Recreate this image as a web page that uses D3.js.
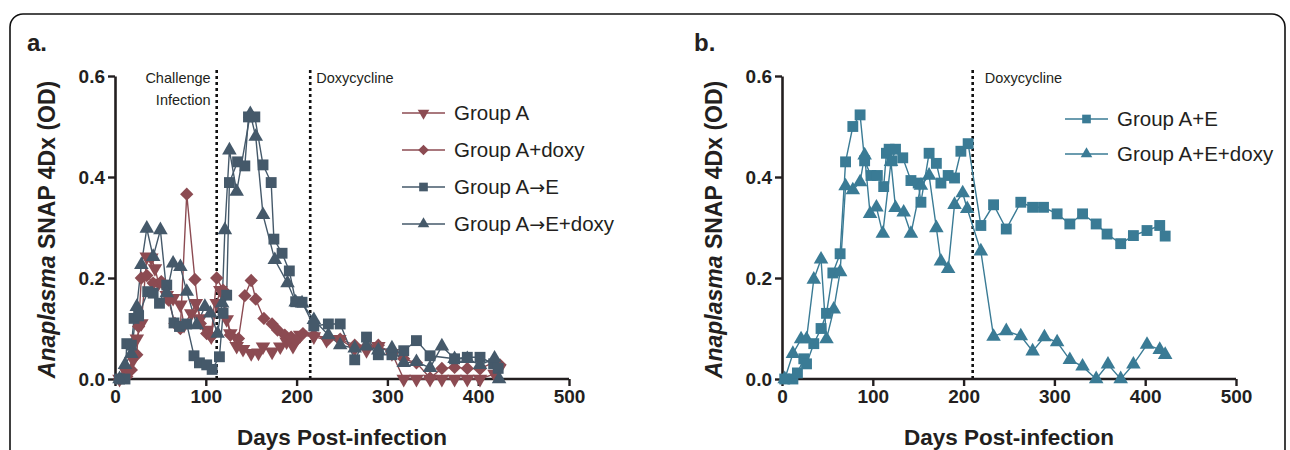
<!DOCTYPE html>
<html>
<head>
<meta charset="utf-8">
<script src="https://cdn.jsdelivr.net/npm/d3@7"></script>
<style>
  body { margin: 0; background: #fff; }
  svg text { font-family: "Liberation Sans", Arial, sans-serif; fill: #231f20; }
</style>
</head>
<body>
<svg id="chart" width="1290" height="450"></svg>
<script>
// ---- data ----
const xTicks = [0, 100, 200, 300, 400, 500];
const yTicks = [0, 0.2, 0.4, 0.6];

// panel a
const daysGroupA = [5,12,20,24,29,35,40,44,48,57,64,72,76,84,89,94,101,106,112,116,123,127,134,141,150,158,163,173,182,189,196,204,219,233,247,264,277,290,305,318,332,347,360,374,388,402,418,423];
const valsGroupA = [0,0.014,0.038,0.08,0.11,0.242,0.24,0.219,0.19,0.166,0.16,0.147,0.107,0.13,0.15,0.12,0.097,0.084,0.15,0.176,0.118,0.09,0.065,0.059,0.051,0.052,0.064,0.054,0.064,0.074,0.065,0.087,0.084,0.077,0.079,0.06,0.057,0.065,0.051,0,0,0,0,0,0,0,0.01,0.02];

const daysGroupADoxy = [5,13,18,24,26,29,35,42,51,59,66,72,79,88,94,101,106,112,119,127,136,143,150,155,164,173,179,187,194,200,207,219,235,248,264,277,290,305,318,332,347,360,374,388,402,418,424];
const valsGroupADoxy = [0,0.005,0.018,0.048,0.104,0.2,0.205,0.19,0.193,0.156,0.11,0.1,0.366,0.197,0.11,0.09,0.084,0.2,0.176,0.087,0.08,0.165,0.195,0.158,0.12,0.109,0.097,0.087,0.083,0.077,0.09,0.087,0.079,0.079,0.067,0.064,0.067,0.051,0.04,0.032,0.002,0.021,0.023,0.021,0.02,0.034,0.028];

const daysGroupAE = [5,11,13,18,21,26,36,42,49,57,65,71,79,87,93,101,107,115,119,123,126,135,143,147,154,163,172,175,184,192,199,206,219,235,248,264,277,290,305,318,332,347,374,388,402,417,422];
const valsGroupAE = [0,0,0.07,0.067,0.12,0.125,0.173,0.17,0.15,0.186,0.111,0.104,0.109,0.046,0.032,0.028,0.019,0.044,0.13,0.166,0.389,0.43,0.422,0.519,0.519,0.424,0.389,0.277,0.249,0.214,0.153,0.152,0.105,0.109,0.109,0.038,0.083,0.048,0.048,0.056,0.076,0.046,0.04,0.043,0.043,0.03,0.021];

const daysGroupAEDoxy = [5,11,18,24,29,35,42,50,57,64,72,79,90,99,105,113,118,121,126,134,149,155,163,176,190,199,206,219,235,248,264,277,290,305,318,332,347,360,374,388,402,418,423];
const valsGroupAEDoxy = [0,0.028,0.05,0.143,0.226,0.298,0.242,0.295,0.17,0.229,0.222,0.173,0.107,0.143,0.13,0.09,0.15,0.295,0.453,0.371,0.525,0.48,0.325,0.236,0.19,0.152,0.15,0.117,0.087,0.067,0.061,0.065,0.057,0.061,0.032,0.034,0.022,0.065,0.04,0.04,0.028,0.041,0];

// panel b
const daysGroupAplusE = [3,12,17,24,27,35,43,49,56,64,70,78,86,91,98,105,112,115,118,121,125,133,142,150,153,162,170,175,183,190,197,205,219,233,247,263,276,288,303,317,331,346,358,373,387,402,416,422];
const valsGroupAplusE = [0,0,0.012,0.04,0.03,0.07,0.1,0.13,0.21,0.248,0.43,0.5,0.523,0.432,0.403,0.403,0.381,0.447,0.455,0.432,0.455,0.438,0.393,0.388,0.35,0.447,0.427,0.388,0.403,0.398,0.451,0.466,0.304,0.345,0.297,0.35,0.34,0.34,0.327,0.307,0.327,0.307,0.287,0.268,0.284,0.294,0.304,0.283];

const daysGroupAplusEDoxy = [3,12,21,27,35,43,49,57,64,70,78,86,91,97,104,111,120,125,134,142,153,162,170,175,183,190,199,204,219,233,247,263,276,289,303,317,331,346,359,373,387,402,416,422];
const valsGroupAplusEDoxy = [0,0.05,0.079,0.079,0.197,0.237,0.079,0.138,0.212,0.382,0.374,0.39,0.443,0.327,0.34,0.288,0.43,0.339,0.33,0.288,0.383,0.403,0.299,0.233,0.218,0.345,0.368,0.337,0.253,0.084,0.095,0.085,0.055,0.083,0.073,0.038,0.025,0,0.029,0,0.029,0.068,0.058,0.048];

const colRed = "#8c4b52";
const colSlate = "#45596a";
const colTeal = "#3a7b95";

const panels = [
  {
    letter: "a.", letterX: 27, axisX0: 115,
    series: [
      { name: ["Group A"], days: daysGroupA, vals: valsGroupA, color: colRed, shape: "down" },
      { name: ["Group A+doxy"], days: daysGroupADoxy, vals: valsGroupADoxy, color: colRed, shape: "diamond" },
      { name: ["Group A", "\u2192", "E"], days: daysGroupAE, vals: valsGroupAE, color: colSlate, shape: "square" },
      { name: ["Group A", "\u2192", "E+doxy"], days: daysGroupAEDoxy, vals: valsGroupAEDoxy, color: colSlate, shape: "up" }
    ],
    vlines: [
      { day: 112, lines: ["Challenge", "Infection"], side: "left", off: 6 },
      { day: 215, lines: ["Doxycycline"], side: "right", off: 6 }
    ],
    legendX: 402, legendY: 113, legendGap: 37
  },
  {
    letter: "b.", letterX: 694, axisX0: 782,
    series: [
      { name: ["Group A+E"], days: daysGroupAplusE, vals: valsGroupAplusE, color: colTeal, shape: "square" },
      { name: ["Group A+E+doxy"], days: daysGroupAplusEDoxy, vals: valsGroupAplusEDoxy, color: colTeal, shape: "up" }
    ],
    vlines: [
      { day: 210, lines: ["Doxycycline"], side: "right", off: 12 }
    ],
    legendX: 1065, legendY: 119, legendGap: 35
  }
];

const svg = d3.select("#chart");

// outer rounded frame
svg.append("rect")
  .attr("x", 10).attr("y", 14)
  .attr("width", 1275).attr("height", 470)
  .attr("rx", 13)
  .attr("fill", "none")
  .attr("stroke", "#111")
  .attr("stroke-width", 1.6);

function symbolPath(shape, size) {
  if (shape === "square") return d3.symbol(d3.symbolSquare, size)();
  if (shape === "diamond") return d3.symbol(d3.symbolSquare, size * 0.75)();
  return d3.symbol(d3.symbolTriangle, size * 0.78)();
}
function symbolRotate(shape) {
  if (shape === "down") return 180;
  if (shape === "diamond") return 45;
  return 0;
}

panels.forEach(p => {
  const x = d3.scaleLinear().domain([0, 500]).range([p.axisX0, p.axisX0 + 454]);
  const y = d3.scaleLinear().domain([0, 0.6]).range([379, 76]);

  const g = svg.append("g");

  // panel letter
  g.append("text")
    .attr("x", p.letterX).attr("y", 51)
    .attr("font-size", 24).attr("font-weight", "bold")
    .text(p.letter);

  // axes
  const xAxis = g.append("g")
    .attr("transform", `translate(0,${y(0)})`)
    .call(d3.axisBottom(x).tickValues(xTicks).tickSize(7).tickSizeOuter(0).tickPadding(4));
  const yAxis = g.append("g")
    .attr("transform", `translate(${x(0)},0)`)
    .call(d3.axisLeft(y).tickValues(yTicks).tickFormat(d3.format(".1f")).tickSize(7).tickSizeOuter(0).tickPadding(3));

  [xAxis, yAxis].forEach(a => {
    a.select(".domain").attr("stroke", "#231f20").attr("stroke-width", 2.6);
    a.selectAll(".tick line").attr("stroke", "#231f20").attr("stroke-width", 2.4);
    a.selectAll(".tick text")
      .attr("fill", "#231f20")
      .attr("font-size", 19).attr("font-weight", "bold")
      .attr("font-family", "'Liberation Sans', Arial, sans-serif");
  });
  // let the x axis line meet the y axis
  xAxis.select(".domain").attr("d", `M${x(0) - 1.3},0H${x(500)}`);

  // axis titles
  g.append("text")
    .attr("x", (x(0) + x(500)) / 2).attr("y", 445)
    .attr("text-anchor", "middle")
    .attr("font-size", 22.5).attr("font-weight", "bold")
    .text("Days Post-infection");

  const yt = g.append("text")
    .attr("transform", `translate(${x(0) - 60},${(y(0) + y(0.6)) / 2 + 2}) rotate(-90)`)
    .attr("text-anchor", "middle")
    .attr("font-size", 23).attr("font-weight", "bold");
  yt.append("tspan").attr("font-style", "italic").text("Anaplasma");
  yt.append("tspan").text(" SNAP 4Dx (OD)");

  // dotted event lines
  p.vlines.forEach(v => {
    g.append("line")
      .attr("x1", x(v.day)).attr("x2", x(v.day))
      .attr("y1", y(0.6) - 6).attr("y2", y(0) - 1)
      .attr("stroke", "#111").attr("stroke-width", 2.6)
      .attr("stroke-dasharray", "3,3");
    v.lines.forEach((t, i) => {
      g.append("text")
        .attr("x", v.side === "left" ? x(v.day) - v.off : x(v.day) + v.off)
        .attr("y", 83 + i * 22)
        .attr("text-anchor", v.side === "left" ? "end" : "start")
        .attr("font-size", 14.5)
        .text(t);
    });
  });

  // series lines + markers
  p.series.forEach(s => {
    const pts = s.days.map((d, i) => [d, s.vals[i]]);
    g.append("path")
      .datum(pts)
      .attr("fill", "none")
      .attr("stroke", s.color)
      .attr("stroke-width", 1.4)
      .attr("d", d3.line().x(d => x(d[0])).y(d => y(d[1])));
  });
  p.series.forEach(s => {
    const pts = s.days.map((d, i) => [d, s.vals[i]]);
    g.append("g").selectAll("path")
      .data(pts)
      .join("path")
      .attr("transform", d => `translate(${x(d[0])},${y(d[1])}) rotate(${symbolRotate(s.shape)})`)
      .attr("d", symbolPath(s.shape, 118))
      .attr("fill", s.color);
  });

  // legend
  p.series.forEach((s, i) => {
    const ly = p.legendY + i * p.legendGap;
    g.append("line")
      .attr("x1", p.legendX).attr("x2", p.legendX + 43)
      .attr("y1", ly).attr("y2", ly)
      .attr("stroke", s.color).attr("stroke-width", 1.4);
    g.append("path")
      .attr("transform", `translate(${p.legendX + 21.5},${ly}) rotate(${symbolRotate(s.shape)})`)
      .attr("d", symbolPath(s.shape, 75))
      .attr("fill", s.color);
    const t = g.append("text")
      .attr("x", p.legendX + 52).attr("y", ly + 7)
      .attr("font-size", 20.5);
    s.name.forEach(part => {
      const sp = t.append("tspan").text(part);
      if (part === "\u2192") sp.attr("font-family", "'DejaVu Sans', sans-serif").attr("font-size", 19);
    });
  });
});
</script>
</body>
</html>
